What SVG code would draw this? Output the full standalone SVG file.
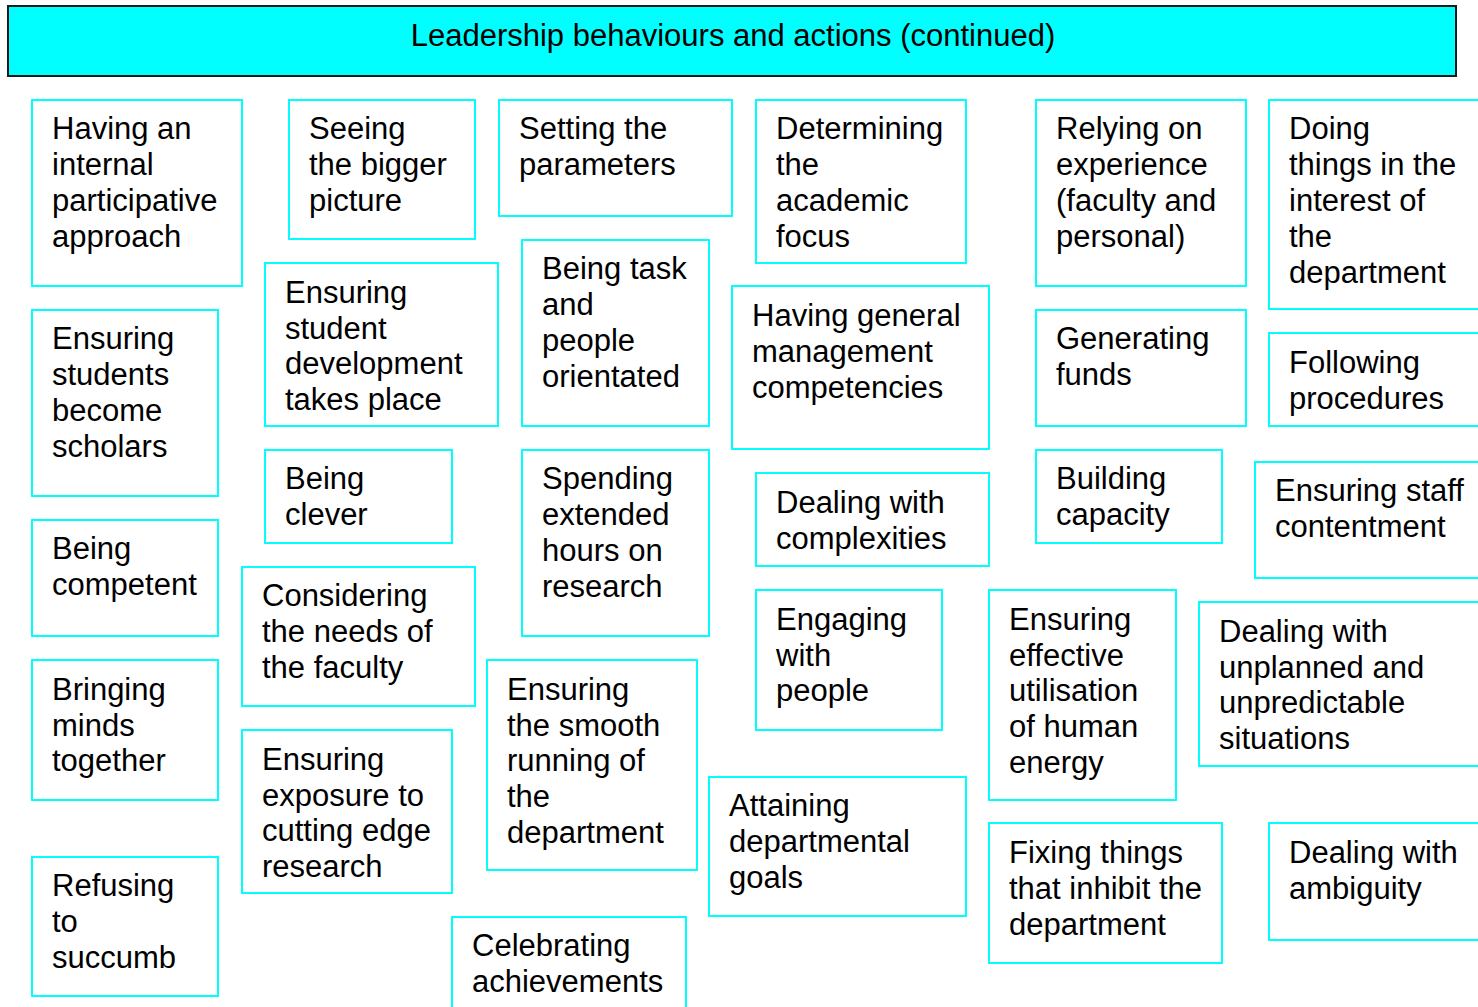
<svg xmlns="http://www.w3.org/2000/svg" width="1478" height="1007" viewBox="0 0 1478 1007">
<style>
.b{fill:#fff;stroke:#00ffff;stroke-width:2}
.t{font-family:"Liberation Sans",Arial,sans-serif;font-size:31px;fill:#000}
.h{fill:#00ffff;stroke:#1a1a1a;stroke-width:2}
</style>
<rect width="1478" height="1007" fill="#fff"/>
<g id="header"><rect class="h" x="8" y="6" width="1448" height="70"/><text class="t" x="733" y="46" text-anchor="middle" font-size="29.6">Leadership behaviours and actions (continued)</text></g>
<g id="connectors"></g>
<g id="n1"><rect class="b" x="32" y="100" width="210" height="186"/><text class="t" x="52" y="139"><tspan x="52">Having an</tspan><tspan x="52" dy="36">internal</tspan><tspan x="52" dy="36">participative</tspan><tspan x="52" dy="36">approach</tspan></text></g>
<g id="n2"><rect class="b" x="289" y="100" width="186" height="139"/><text class="t" x="309" y="139"><tspan x="309">Seeing</tspan><tspan x="309" dy="36">the bigger</tspan><tspan x="309" dy="36">picture</tspan></text></g>
<g id="n3"><rect class="b" x="499" y="100" width="233" height="116"/><text class="t" x="519" y="139"><tspan x="519">Setting the</tspan><tspan x="519" dy="36">parameters</tspan></text></g>
<g id="n4"><rect class="b" x="756" y="100" width="210" height="163"/><text class="t" x="776" y="139"><tspan x="776">Determining</tspan><tspan x="776" dy="36">the</tspan><tspan x="776" dy="36">academic</tspan><tspan x="776" dy="36">focus</tspan></text></g>
<g id="n5"><rect class="b" x="1036" y="100" width="210" height="186"/><text class="t" x="1056" y="139"><tspan x="1056">Relying on</tspan><tspan x="1056" dy="36">experience</tspan><tspan x="1056" dy="36">(faculty and</tspan><tspan x="1056" dy="36">personal)</tspan></text></g>
<g id="n6"><rect class="b" x="1269" y="100" width="215" height="209"/><text class="t" x="1289" y="139"><tspan x="1289">Doing</tspan><tspan x="1289" dy="36">things in the</tspan><tspan x="1289" dy="36">interest of</tspan><tspan x="1289" dy="36">the</tspan><tspan x="1289" dy="35.5">department</tspan></text></g>
<g id="n7"><rect class="b" x="32" y="310" width="186" height="186"/><text class="t" x="52" y="349"><tspan x="52">Ensuring</tspan><tspan x="52" dy="36">students</tspan><tspan x="52" dy="36">become</tspan><tspan x="52" dy="36">scholars</tspan></text></g>
<g id="n8"><rect class="b" x="265" y="263" width="233" height="163"/><text class="t" x="285" y="303"><tspan x="285">Ensuring</tspan><tspan x="285" dy="35.7">student</tspan><tspan x="285" dy="35.7">development</tspan><tspan x="285" dy="35.7">takes place</tspan></text></g>
<g id="n9"><rect class="b" x="522" y="240" width="187" height="186"/><text class="t" x="542" y="279"><tspan x="542">Being task</tspan><tspan x="542" dy="36">and</tspan><tspan x="542" dy="36">people</tspan><tspan x="542" dy="36">orientated</tspan></text></g>
<g id="n10"><rect class="b" x="732" y="286" width="257" height="163"/><text class="t" x="752" y="326"><tspan x="752">Having general</tspan><tspan x="752" dy="36">management</tspan><tspan x="752" dy="36">competencies</tspan></text></g>
<g id="n11"><rect class="b" x="1036" y="310" width="210" height="116"/><text class="t" x="1056" y="349"><tspan x="1056">Generating</tspan><tspan x="1056" dy="36">funds</tspan></text></g>
<g id="n12"><rect class="b" x="1269" y="333" width="215" height="93"/><text class="t" x="1289" y="373"><tspan x="1289">Following</tspan><tspan x="1289" dy="35.5">procedures</tspan></text></g>
<g id="n13"><rect class="b" x="265" y="450" width="187" height="93"/><text class="t" x="285" y="489"><tspan x="285">Being</tspan><tspan x="285" dy="36">clever</tspan></text></g>
<g id="n14"><rect class="b" x="522" y="450" width="187" height="186"/><text class="t" x="542" y="489"><tspan x="542">Spending</tspan><tspan x="542" dy="36">extended</tspan><tspan x="542" dy="36">hours on</tspan><tspan x="542" dy="36">research</tspan></text></g>
<g id="n15"><rect class="b" x="756" y="473" width="233" height="93"/><text class="t" x="776" y="513"><tspan x="776">Dealing with</tspan><tspan x="776" dy="36">complexities</tspan></text></g>
<g id="n16"><rect class="b" x="1036" y="450" width="186" height="93"/><text class="t" x="1056" y="489"><tspan x="1056">Building</tspan><tspan x="1056" dy="36">capacity</tspan></text></g>
<g id="n17"><rect class="b" x="1255" y="462" width="229" height="116"/><text class="t" x="1275" y="501"><tspan x="1275">Ensuring staff</tspan><tspan x="1275" dy="36">contentment</tspan></text></g>
<g id="n18"><rect class="b" x="32" y="520" width="186" height="116"/><text class="t" x="52" y="559"><tspan x="52">Being</tspan><tspan x="52" dy="36">competent</tspan></text></g>
<g id="n19"><rect class="b" x="242" y="567" width="233" height="139"/><text class="t" x="262" y="606"><tspan x="262">Considering</tspan><tspan x="262" dy="36">the needs of</tspan><tspan x="262" dy="36">the faculty</tspan></text></g>
<g id="n20"><rect class="b" x="32" y="660" width="186" height="140"/><text class="t" x="52" y="700"><tspan x="52">Bringing</tspan><tspan x="52" dy="35.5">minds</tspan><tspan x="52" dy="35.5">together</tspan></text></g>
<g id="n21"><rect class="b" x="487" y="660" width="210" height="210"/><text class="t" x="507" y="700"><tspan x="507">Ensuring</tspan><tspan x="507" dy="35.7">the smooth</tspan><tspan x="507" dy="35.7">running of</tspan><tspan x="507" dy="35.7">the</tspan><tspan x="507" dy="35.7">department</tspan></text></g>
<g id="n22"><rect class="b" x="756" y="590" width="186" height="140"/><text class="t" x="776" y="630"><tspan x="776">Engaging</tspan><tspan x="776" dy="35.5">with</tspan><tspan x="776" dy="35.5">people</tspan></text></g>
<g id="n23"><rect class="b" x="989" y="590" width="187" height="210"/><text class="t" x="1009" y="630"><tspan x="1009">Ensuring</tspan><tspan x="1009" dy="35.7">effective</tspan><tspan x="1009" dy="35.7">utilisation</tspan><tspan x="1009" dy="35.7">of human</tspan><tspan x="1009" dy="35.7">energy</tspan></text></g>
<g id="n24"><rect class="b" x="1199" y="602" width="285" height="164"/><text class="t" x="1219" y="642"><tspan x="1219">Dealing with</tspan><tspan x="1219" dy="35.7">unplanned and</tspan><tspan x="1219" dy="35.7">unpredictable</tspan><tspan x="1219" dy="35.7">situations</tspan></text></g>
<g id="n25"><rect class="b" x="242" y="730" width="210" height="163"/><text class="t" x="262" y="770"><tspan x="262">Ensuring</tspan><tspan x="262" dy="35.7">exposure to</tspan><tspan x="262" dy="35.7">cutting edge</tspan><tspan x="262" dy="35.7">research</tspan></text></g>
<g id="n26"><rect class="b" x="709" y="777" width="257" height="139"/><text class="t" x="729" y="816"><tspan x="729">Attaining</tspan><tspan x="729" dy="36">departmental</tspan><tspan x="729" dy="36">goals</tspan></text></g>
<g id="n27"><rect class="b" x="989" y="823" width="233" height="140"/><text class="t" x="1009" y="863"><tspan x="1009">Fixing things</tspan><tspan x="1009" dy="36">that inhibit the</tspan><tspan x="1009" dy="36">department</tspan></text></g>
<g id="n28"><rect class="b" x="1269" y="823" width="215" height="117"/><text class="t" x="1289" y="863"><tspan x="1289">Dealing with</tspan><tspan x="1289" dy="36">ambiguity</tspan></text></g>
<g id="n29"><rect class="b" x="32" y="857" width="186" height="139"/><text class="t" x="52" y="896"><tspan x="52">Refusing</tspan><tspan x="52" dy="36">to</tspan><tspan x="52" dy="36">succumb</tspan></text></g>
<g id="n30"><rect class="b" x="452" y="917" width="234" height="100"/><text class="t" x="472" y="956"><tspan x="472">Celebrating</tspan><tspan x="472" dy="36">achievements</tspan></text></g>
</svg>
